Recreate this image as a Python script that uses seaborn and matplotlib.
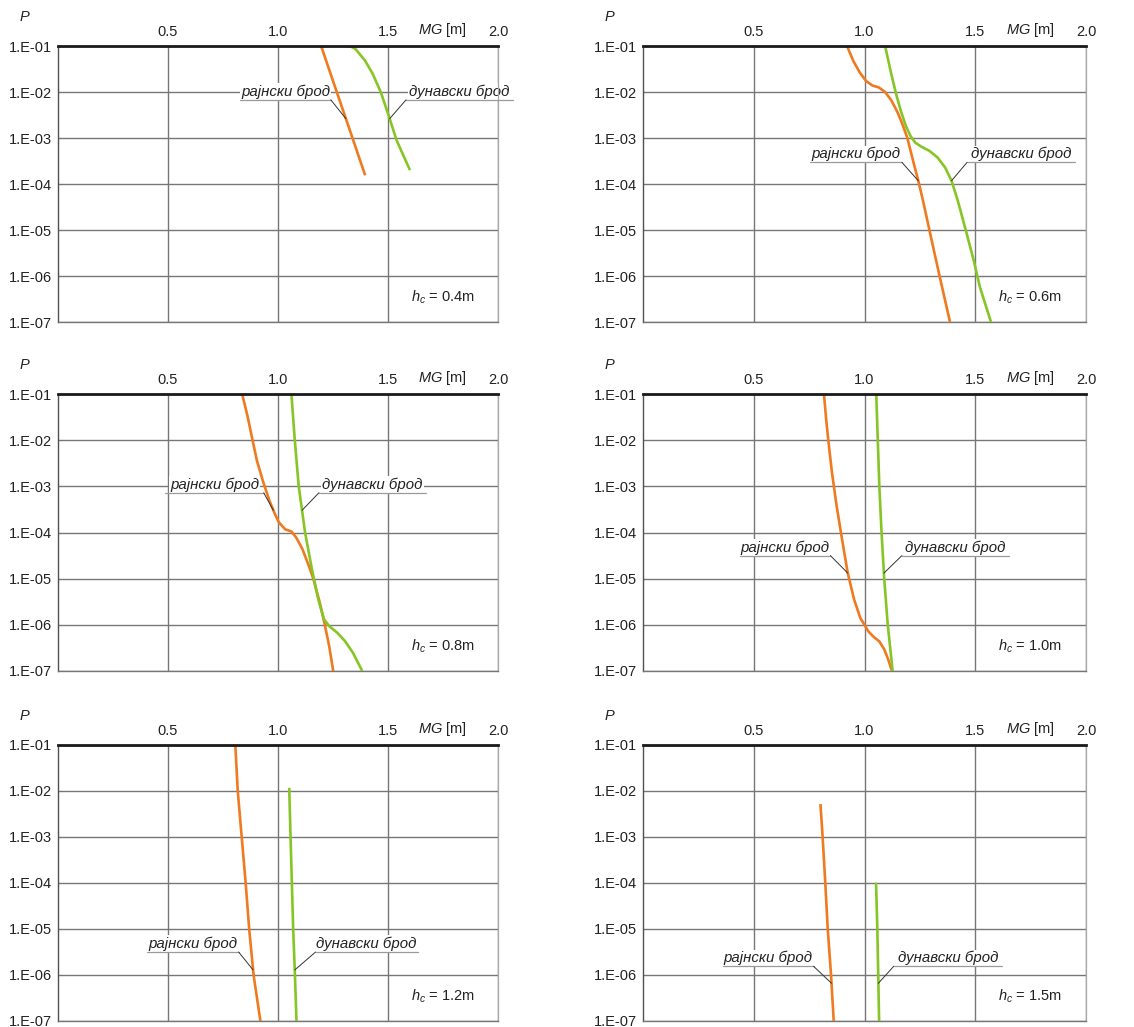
import numpy as np
import pandas as pd
import matplotlib
matplotlib.use("Agg")
import matplotlib.pyplot as plt
import seaborn as sns

# ---- data: MG [m] and exceedance probability P for each critical height h_c ----
hc_values = [0.4, 0.6, 0.8, 1.0, 1.2, 1.5]
ship_names = ["рајнски брод", "дунавски брод"]

# h_c = 0.4 m
mg_rhine_04 = [1.196, 1.26, 1.33, 1.396]
p_rhine_04 = [1.0e-1, 1.26e-2, 1.32e-3, 1.55e-4]
mg_danube_04 = [1.317, 1.335, 1.353, 1.396, 1.431, 1.467, 1.503, 1.539, 1.600]
p_danube_04 = [1.0e-1, 9.55e-2, 8.51e-2, 4.79e-2, 2.45e-2, 1.0e-2, 3.09e-3, 8.91e-4, 2.0e-4]

# h_c = 0.6 m
mg_rhine_06 = [0.921, 0.950, 0.979, 1.007, 1.036, 1.064, 1.093, 1.121, 1.150, 1.171,
               1.193, 1.219, 1.243, 1.264, 1.293, 1.336, 1.386]
p_rhine_06 = [1.0e-1, 4.68e-2, 2.63e-2, 1.74e-2, 1.38e-2, 1.26e-2, 1.0e-2, 6.61e-3,
              3.55e-3, 2.0e-3, 1.02e-3, 3.24e-4, 1.17e-4, 4.37e-5, 1.0e-5, 1.15e-6, 1.0e-7]
mg_danube_06 = [1.093, 1.121, 1.143, 1.164, 1.186, 1.207, 1.229, 1.257, 1.293, 1.329,
                1.364, 1.393, 1.421, 1.457, 1.493, 1.521, 1.571]
p_danube_06 = [1.0e-1, 2.45e-2, 8.91e-3, 3.89e-3, 1.86e-3, 1.12e-3, 7.94e-4, 6.46e-4,
               5.25e-4, 3.80e-4, 2.29e-4, 1.17e-4, 4.37e-5, 1.0e-5, 2.19e-6, 5.75e-7, 1.0e-7]

# h_c = 0.8 m
mg_rhine_08 = [0.837, 0.861, 0.883, 0.904, 0.933, 0.961, 0.986, 1.004, 1.033, 1.061,
               1.083, 1.111, 1.140, 1.161, 1.190, 1.211, 1.233, 1.251]
p_rhine_08 = [1.0e-1, 3.39e-2, 1.07e-2, 3.63e-3, 1.23e-3, 4.90e-4, 2.51e-4, 1.66e-4,
              1.17e-4, 1.05e-4, 7.76e-5, 4.37e-5, 1.91e-5, 9.77e-6, 3.02e-6, 1.10e-6,
              3.39e-7, 1.0e-7]
mg_danube_08 = [1.061, 1.076, 1.094, 1.123, 1.154, 1.183, 1.209, 1.233, 1.269, 1.304,
                1.340, 1.383]
p_danube_08 = [1.0e-1, 1.05e-2, 1.02e-3, 1.0e-4, 1.62e-5, 3.55e-6, 1.32e-6, 9.33e-7,
               6.76e-7, 4.47e-7, 2.51e-7, 1.0e-7]

# h_c = 1.0 m
mg_rhine_10 = [0.817, 0.826, 0.836, 0.853, 0.874, 0.896, 0.924, 0.953, 0.981, 1.000,
               1.017, 1.039, 1.067, 1.089, 1.107, 1.124]
p_rhine_10 = [1.0e-1, 3.16e-2, 1.05e-2, 2.0e-3, 3.80e-4, 8.51e-5, 1.35e-5, 3.55e-6,
              1.41e-6, 1.0e-6, 7.24e-7, 5.62e-7, 4.37e-7, 2.95e-7, 1.78e-7, 1.0e-7]
mg_danube_10 = [1.053, 1.060, 1.067, 1.077, 1.089, 1.105, 1.127]
p_danube_10 = [1.0e-1, 1.0e-2, 1.0e-3, 1.0e-4, 1.0e-5, 1.0e-6, 1.0e-7]

# h_c = 1.2 m
mg_rhine_12 = [0.806, 0.817, 0.835, 0.853, 0.869, 0.889, 0.920]
p_rhine_12 = [1.0e-1, 1.0e-2, 1.0e-3, 1.0e-4, 1.0e-5, 1.0e-6, 1.0e-7]
mg_danube_12 = [1.051, 1.057, 1.063, 1.069, 1.077, 1.084]
p_danube_12 = [1.17e-2, 1.0e-3, 1.0e-4, 1.0e-5, 1.0e-6, 1.0e-7]

# h_c = 1.5 m
mg_rhine_15 = [0.801, 0.811, 0.823, 0.834, 0.849, 0.861]
p_rhine_15 = [5.2e-3, 1.0e-3, 1.0e-4, 1.0e-5, 1.0e-6, 1.0e-7]
mg_danube_15 = [1.052, 1.058, 1.062, 1.066]
p_danube_15 = [1.02e-4, 1.0e-5, 1.0e-6, 1.0e-7]

curves = {
    0.4: ((mg_rhine_04, p_rhine_04), (mg_danube_04, p_danube_04)),
    0.6: ((mg_rhine_06, p_rhine_06), (mg_danube_06, p_danube_06)),
    0.8: ((mg_rhine_08, p_rhine_08), (mg_danube_08, p_danube_08)),
    1.0: ((mg_rhine_10, p_rhine_10), (mg_danube_10, p_danube_10)),
    1.2: ((mg_rhine_12, p_rhine_12), (mg_danube_12, p_danube_12)),
    1.5: ((mg_rhine_15, p_rhine_15), (mg_danube_15, p_danube_15)),
}

x_ticks = [0.5, 1.0, 1.5, 2.0]
x_tick_labels = ["0.5", "1.0", "1.5", "2.0"]
y_ticks = [1e-1, 1e-2, 1e-3, 1e-4, 1e-5, 1e-6, 1e-7]
y_tick_labels = ["1.E-01", "1.E-02", "1.E-03", "1.E-04", "1.E-05", "1.E-06", "1.E-07"]

# ---- label placement: underline spans, underline level and leader-target level (P) ----
label_layout = {
    0.4: ((0.829, 1.240), (1.582, 2.068), 10 ** -2.17, 10 ** -2.58),
    0.6: ((0.755, 1.169), (1.463, 1.952), 10 ** -3.53, 10 ** -3.93),
    0.8: ((0.487, 0.935), (1.186, 1.673), 10 ** -3.14, 10 ** -3.52),
    1.0: ((0.436, 0.846), (1.169, 1.651), 10 ** -4.50, 10 ** -4.88),
    1.2: ((0.403, 0.821), (1.171, 1.635), 10 ** -5.50, 10 ** -5.89),
    1.5: ((0.361, 0.770), (1.132, 1.621), 10 ** -5.81, 10 ** -6.18),
}

# ---- style ----
sns.set_theme(style="white")
plt.rcParams["font.family"] = ["Liberation Sans", "DejaVu Sans"]
plt.rcParams["mathtext.fontset"] = "custom"
plt.rcParams["mathtext.it"] = "Liberation Sans:italic"
plt.rcParams["mathtext.rm"] = "Liberation Sans"
plt.rcParams["mathtext.default"] = "it"

palette = {ship_names[0]: "#ef7a1f", ship_names[1]: "#86c624"}
grid_color = "#767676"
text_color = "#222222"
fs = 10.5
fs_label = 10.8

fig = plt.figure(figsize=(11.34, 10.27), dpi=100)
W, H = 1134, 1027
col_left = [58, 643]
col_width = [440, 443]
row_top = [46, 394, 745]
row_height = [276, 277, 276]

for i, hc in enumerate(hc_values):
    r, c = divmod(i, 2)
    ax = fig.add_axes([col_left[c] / W, (H - row_top[r] - row_height[r]) / H,
                       col_width[c] / W, row_height[r] / H])
    ax.set_yscale("log")

    (mg_r, p_r), (mg_d, p_d) = curves[hc]
    df = pd.DataFrame({
        "MG": list(mg_r) + list(mg_d),
        "P": list(p_r) + list(p_d),
        "ship": [ship_names[0]] * len(mg_r) + [ship_names[1]] * len(mg_d),
    })
    sns.lineplot(data=df, x="MG", y="P", hue="ship", palette=palette, sort=False,
                 estimator=None, legend=False, linewidth=1.9, ax=ax, zorder=3)
    for ln in ax.lines:
        ln.set_solid_joinstyle("round")
        ln.set_solid_capstyle("butt")

    ax.set_xlim(0, 2.0)
    ax.set_ylim(1e-7, 1e-1)
    ax.set_xticks(x_ticks)
    ax.set_xticklabels(x_tick_labels)
    ax.set_yticks(y_ticks)
    ax.set_yticklabels(y_tick_labels)
    ax.minorticks_off()
    ax.xaxis.tick_top()
    ax.tick_params(axis="both", length=0, labelsize=fs, colors=text_color)
    ax.tick_params(axis="x", pad=5)
    ax.tick_params(axis="y", pad=4)
    ax.set_xlabel("")
    ax.set_ylabel("")
    ax.grid(True, which="major", color=grid_color, linewidth=1.0)
    ax.set_axisbelow(True)

    ax.spines["top"].set_color("#1a1a1a")
    ax.spines["top"].set_linewidth(2.0)
    ax.spines["top"].set_zorder(5)
    ax.spines["left"].set_color("#505050")
    ax.spines["left"].set_linewidth(1.0)
    ax.spines["bottom"].set_color(grid_color)
    ax.spines["bottom"].set_linewidth(1.0)
    ax.spines["right"].set_color("#a8a8a8")
    ax.spines["right"].set_linewidth(0.9)

    # axis captions
    ax.annotate("$MG$ [m]", xy=(1.749, 1.0), xycoords=("data", "axes fraction"),
                xytext=(0, 5), textcoords="offset points", ha="center", va="bottom",
                fontsize=fs, color=text_color)
    ax.annotate("$P$", xy=(0, 1.0), xycoords="axes fraction",
                xytext=(-24, 16), textcoords="offset points", ha="center", va="bottom",
                fontsize=fs, color=text_color)
    ax.text(1.749, 10 ** -6.47, f"$h_c$ = {hc:.1f}m", ha="center", va="center",
            fontsize=fs, color=text_color)

    # curve labels with underline and leader
    (lx0, lx1), (rx0, rx1), y_under, y_tgt = label_layout[hc]
    for (mg, p), (x0, x1), name, side in (((mg_r, p_r), (lx0, lx1), ship_names[0], "left"),
                                          ((mg_d, p_d), (rx0, rx1), ship_names[1], "right")):
        logp = np.log10(p)
        order = np.argsort(logp)
        x_tgt = np.interp(np.log10(y_tgt), logp[order], np.asarray(mg)[order])
        x_anchor = x1 if side == "left" else x0
        ax.plot([x0, x1], [y_under, y_under], color="#9a9a9a", linewidth=0.9,
                clip_on=False, zorder=4)
        ax.plot([x_anchor, x_tgt], [y_under, y_tgt], color="#333333", linewidth=0.7,
                clip_on=False, zorder=4)
        ax.annotate(name, xy=((x0 + x1) / 2, y_under), xytext=(0, 2.8),
                    textcoords="offset points", ha="center", va="baseline",
                    fontsize=fs_label, style="italic", color=text_color, zorder=2,
                    bbox=dict(facecolor="white", edgecolor="none", pad=1.0))

fig.savefig("out.png", dpi=100, facecolor="white")
